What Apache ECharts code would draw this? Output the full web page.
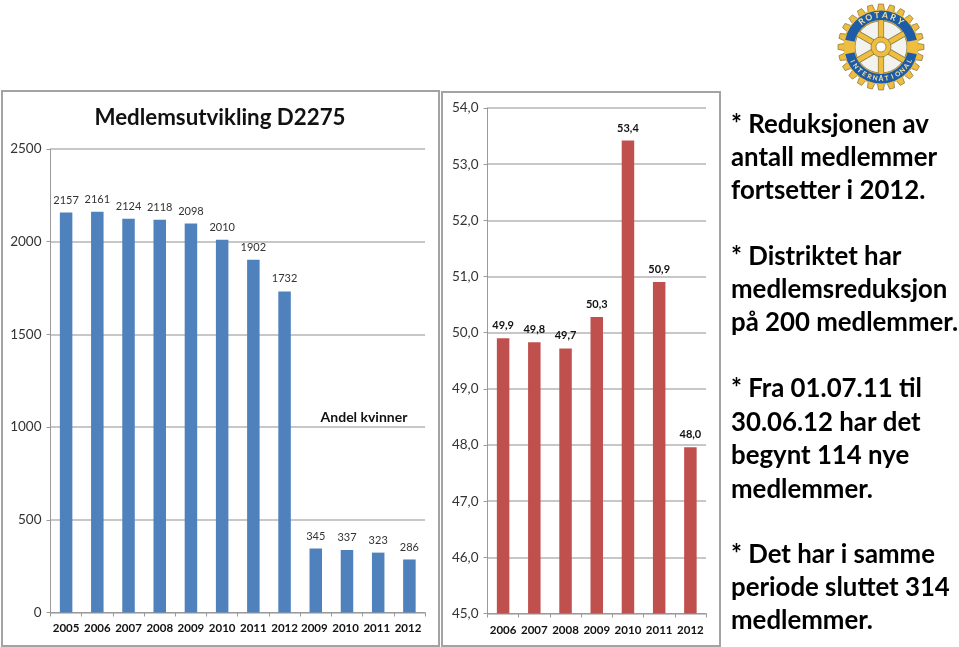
<!DOCTYPE html>
<html><head><meta charset="utf-8">
<style>html,body{margin:0;padding:0;background:#fff}#c{width:959px;height:647px}</style>
<script src="https://cdn.jsdelivr.net/npm/echarts@6/dist/echarts.min.js"></script>
</head><body><div id="c"></div>
<script>
const memberCategories = ['2005','2006','2007','2008','2009','2010','2011','2012','2009 ','2010 ','2011 ','2012 '];
const memberValues = [2157,2161,2124,2118,2098,2010,1902,1732,345,337,323,286];
const shareCategories = ['2006','2007','2008','2009','2010','2011','2012'];
const shareValues = [49.9,49.83,49.72,50.28,53.42,50.9,47.96];
const leftTitle = 'Medlemsutvikling D2275';
const leftNote = 'Andel kvinner';
const bodyLines = [
 ['* Reduksjonen av',125],['antall medlemmer',158],['fortsetter i 2012.',191],
 ['* Distriktet har',257],['medlemsreduksjon',290],['på 200 medlemmer.',323],
 ['* Fra 01.07.11 til',389],['30.06.12 har det',423],['begynt 114 nye',456],['medlemmer.',490],
 ['* Det har i samme',555],['periode sluttet 314',588],['medlemmer.',621]
];
const UI='Lato, Carlito, sans-serif';
const grid='#b4b4b4', axisC='#9a9a9a';

function axisPair(i,cats,min,max,interval,fmt,margin){
  return {
    x:{type:'category',gridIndex:i,data:cats,axisTick:{show:true,alignWithLabel:false,length:4,lineStyle:{color:axisC}},
       axisLine:{lineStyle:{color:axisC,width:1}},axisLabel:{interval:0,color:'#111',fontFamily:UI,fontWeight:'bold',fontSize:11.5,margin}},
    y:{type:'value',gridIndex:i,min,max,interval,axisLine:{show:true,lineStyle:{color:axisC}},axisTick:{show:true,length:4,lineStyle:{color:axisC}},
       splitLine:{lineStyle:{color:grid,width:1.5}},axisLabel:{color:'#333',fontFamily:UI,fontSize:13.5,margin:9,formatter:fmt}}
  };
}
const a=axisPair(0,memberCategories,0,2500,500,v=>String(v),10);
const b=axisPair(1,shareCategories,45,54,1,v=>v.toFixed(1).replace('.',','),11);

/* Rotary wheel, decorative logo */
const cx=881,cy=47,gold='#F0BE3E',edge='#8a7a45',blue='#1E5CA8';
function gearPoints(n,ro,ri){const p=[];for(let k=0;k<n;k++){const t=2*Math.PI*k/n-Math.PI/2,d=2*Math.PI/n;
  [[-.36,ri],[-.22,ro],[.22,ro],[.36,ri]].forEach(([f,r])=>p.push([cx+r*Math.cos(t+f*d),cy+r*Math.sin(t+f*d)]));}return p;}
function ring(r0,r,fill,stroke,sa,ea){return {type:'sector',silent:true,shape:{cx,cy,r0,r,startAngle:sa||0,endAngle:ea||Math.PI*2},style:{fill,stroke:stroke||null,lineWidth:stroke?0.8:0}};}
function arcText(txt,r,mid,step,dir,size){
  return txt.split('').map((ch,i)=>{const ang=mid+dir*(i-(txt.length-1)/2)*step;
    return {type:'text',silent:true,x:cx+r*Math.cos(ang),y:cy+r*Math.sin(ang),rotation:-(ang+dir*Math.PI/2),
      style:{text:ch,fill:'#f6e3a0',font:'bold '+size+'px '+UI,align:'center',verticalAlign:'middle'}};});
}
const spokeAngles=[0,1,2].map(k=>Math.PI*k/3+Math.PI/2);
function spoke(t,stroke,lineWidth){return {type:'line',silent:true,shape:{x1:cx+27*Math.cos(t),y1:cy+27*Math.sin(t),x2:cx-27*Math.cos(t),y2:cy-27*Math.sin(t)},style:{stroke,lineWidth}};}
const logo=[
 {type:'polygon',silent:true,shape:{points:gearPoints(24,43,37)},style:{fill:gold,stroke:edge,lineWidth:.8}},
 ring(0,37.5,gold,null),
 ring(0,26,'#f2f3ee',edge),
 ...spokeAngles.map(t=>spoke(t,edge,6.2)),
 ...spokeAngles.map(t=>spoke(t,gold,4.8)),
 ring(27,36.5,blue,null),
 ring(26.5,37,gold,null,-0.2,0.2),
 ring(26.5,37,gold,null,Math.PI-0.2,Math.PI+0.2),
 ...arcText('ROTARY',31.8,-Math.PI/2,0.26,1,8.5),
 ...arcText('INTERNATIONAL',31.8,Math.PI/2,0.185,-1,6.5),
 {type:'circle',silent:true,shape:{cx,cy,r:10},style:{fill:gold,stroke:edge,lineWidth:.8}},
 {type:'circle',silent:true,shape:{cx,cy,r:5},style:{fill:'#fff',stroke:edge,lineWidth:.8}}
];

const frames=[
 {type:'rect',silent:true,shape:{x:2,y:91,width:437,height:555},style:{fill:'#fff',stroke:'#a3a3a3',lineWidth:2}},
 {type:'rect',silent:true,shape:{x:442,y:92,width:278,height:554},style:{fill:'#fff',stroke:'#a3a3a3',lineWidth:2}}
];
const texts=[
 {type:'text',silent:true,x:220,y:118,style:{text:leftTitle,fill:'#111',font:'bold 22.3px '+UI,align:'center',verticalAlign:'middle'}},
 {type:'text',silent:true,x:364,y:417,style:{text:leftNote,fill:'#111',font:'bold 14px '+UI,align:'center',verticalAlign:'middle'}},
 ...bodyLines.map(([t,y])=>({type:'text',silent:true,x:731,y,style:{text:t,fill:'#000',font:'bold 25.8px '+UI,align:'left',verticalAlign:'middle'}}))
];
function barLabel(color,weight,fs,fmt){return {show:true,position:'top',distance:7,color,fontFamily:UI,fontSize:fs,fontWeight:weight,formatter:fmt};}
const chart=echarts.init(document.getElementById('c'),null,{renderer:'canvas'});
chart.setOption({
  animation:false,backgroundColor:'#fff',
  graphic:{elements:[...frames.map(f=>({...f,z:-10,zlevel:0})),...texts,...logo]},
  grid:[{left:50.5,top:149,width:374.5,height:463.5,containLabel:false},
        {left:487.5,top:108,width:218.5,height:505.5,containLabel:false}],
  xAxis:[a.x,{...b.x,gridIndex:1}],
  yAxis:[a.y,{...b.y,gridIndex:1}],
  series:[
   {type:'bar',xAxisIndex:0,yAxisIndex:0,data:memberValues,barWidth:12.5,itemStyle:{color:'#4F81BD'},
    label:barLabel('#333','normal',11,p=>String(p.value))},
   {type:'bar',xAxisIndex:1,yAxisIndex:1,data:shareValues,barWidth:12.5,itemStyle:{color:'#C0504D'},
    label:barLabel('#111','bold',11,p=>p.value.toFixed(1).replace('.',','))}
  ]
});
</script></body></html>
